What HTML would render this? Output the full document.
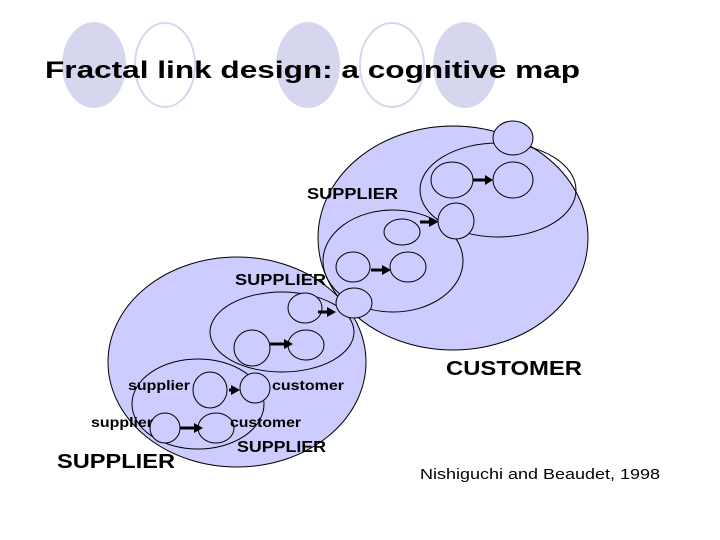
<!DOCTYPE html>
<html><head><meta charset="utf-8"><style>html,body{margin:0;padding:0;background:#fff}svg{display:block}</style></head>
<body>
<svg width="720" height="540" viewBox="0 0 720 540" xmlns="http://www.w3.org/2000/svg" font-family="Liberation Sans, Arial, sans-serif">
<g>
<ellipse cx="94" cy="65" rx="32" ry="43" fill="#d6d6ee"/>
<ellipse cx="165" cy="65" rx="30" ry="42" fill="none" stroke="#d6d6ee" stroke-width="2"/>
<ellipse cx="308" cy="65" rx="32" ry="43" fill="#d6d6ee"/>
<ellipse cx="392" cy="65" rx="32" ry="42" fill="none" stroke="#d6d6ee" stroke-width="2"/>
<ellipse cx="465" cy="65" rx="32" ry="43" fill="#d6d6ee"/>
</g>
<text x="45" y="78" font-size="24" font-weight="bold" textLength="535" lengthAdjust="spacingAndGlyphs">Fractal link design: a cognitive map</text>

<g fill="#ccccff" stroke="#000" stroke-width="1">
<ellipse cx="453" cy="238" rx="135" ry="112"/>
<ellipse cx="237" cy="362" rx="129" ry="105"/>
</g>
<g fill="none" stroke="#000" stroke-width="1">
<ellipse cx="498" cy="190" rx="78" ry="47"/>
<ellipse cx="393" cy="261" rx="70" ry="51"/>
<ellipse cx="282" cy="332" rx="72" ry="40"/>
<ellipse cx="198" cy="404" rx="66" ry="45"/>
</g>
<g fill="#ccccff" stroke="#000" stroke-width="1">
<ellipse cx="513" cy="138" rx="20" ry="17"/>
<ellipse cx="452" cy="180" rx="21" ry="18"/>
<ellipse cx="513" cy="180" rx="20" ry="18"/>
<ellipse cx="456" cy="221" rx="18" ry="18"/>
<ellipse cx="402" cy="232" rx="18" ry="13"/>
<ellipse cx="353" cy="267" rx="17" ry="15"/>
<ellipse cx="408" cy="267" rx="18" ry="15"/>
<ellipse cx="354" cy="303" rx="18" ry="15"/>
<ellipse cx="305" cy="308" rx="17" ry="15"/>
<ellipse cx="252" cy="348" rx="18" ry="18"/>
<ellipse cx="306" cy="345" rx="18" ry="15"/>
<ellipse cx="210" cy="390" rx="17" ry="18"/>
<ellipse cx="255" cy="388" rx="15" ry="15"/>
<ellipse cx="165" cy="428" rx="15" ry="15"/>
<ellipse cx="216" cy="428" rx="18" ry="15"/>
</g>
<g fill="#000" stroke="#000">
<line x1="473" y1="180" x2="486" y2="180" stroke-width="3"/><polygon points="485,175 493,180 485,185" stroke="none"/>
<line x1="420" y1="222" x2="430" y2="222" stroke-width="3"/><polygon points="429,217 438,222 429,227" stroke="none"/>
<line x1="371" y1="270" x2="383" y2="270" stroke-width="3"/><polygon points="382,265 391,270 382,275" stroke="none"/>
<line x1="318" y1="312" x2="328" y2="312" stroke-width="3"/><polygon points="327,307 336,312 327,317" stroke="none"/>
<line x1="270" y1="344" x2="285" y2="344" stroke-width="3"/><polygon points="284,339 293,344 284,349" stroke="none"/>
<line x1="229" y1="390" x2="232" y2="390" stroke-width="3"/><polygon points="231,385 240,390 231,395" stroke="none"/>
<line x1="180" y1="428" x2="195" y2="428" stroke-width="3"/><polygon points="194,423 203,428 194,433" stroke="none"/>
</g>
<g font-weight="bold" fill="#000">
<text x="307" y="199" font-size="16" textLength="91" lengthAdjust="spacingAndGlyphs">SUPPLIER</text>
<text x="235" y="285" font-size="16" textLength="91" lengthAdjust="spacingAndGlyphs">SUPPLIER</text>
<text x="446" y="375" font-size="20" textLength="136" lengthAdjust="spacingAndGlyphs">CUSTOMER</text>
<text x="128" y="390" font-size="14" textLength="62" lengthAdjust="spacingAndGlyphs">supplier</text>
<text x="272" y="390" font-size="14" textLength="72" lengthAdjust="spacingAndGlyphs">customer</text>
<text x="91" y="427" font-size="14" textLength="62" lengthAdjust="spacingAndGlyphs">supplier</text>
<text x="230" y="427" font-size="14" textLength="71" lengthAdjust="spacingAndGlyphs">customer</text>
<text x="57" y="468" font-size="20" textLength="118" lengthAdjust="spacingAndGlyphs">SUPPLIER</text>
<text x="237" y="452" font-size="16" textLength="89" lengthAdjust="spacingAndGlyphs">SUPPLIER</text>
</g>
<text x="420" y="479" font-size="15" fill="#000" textLength="240" lengthAdjust="spacingAndGlyphs">Nishiguchi and Beaudet, 1998</text>
</svg>
</body></html>
